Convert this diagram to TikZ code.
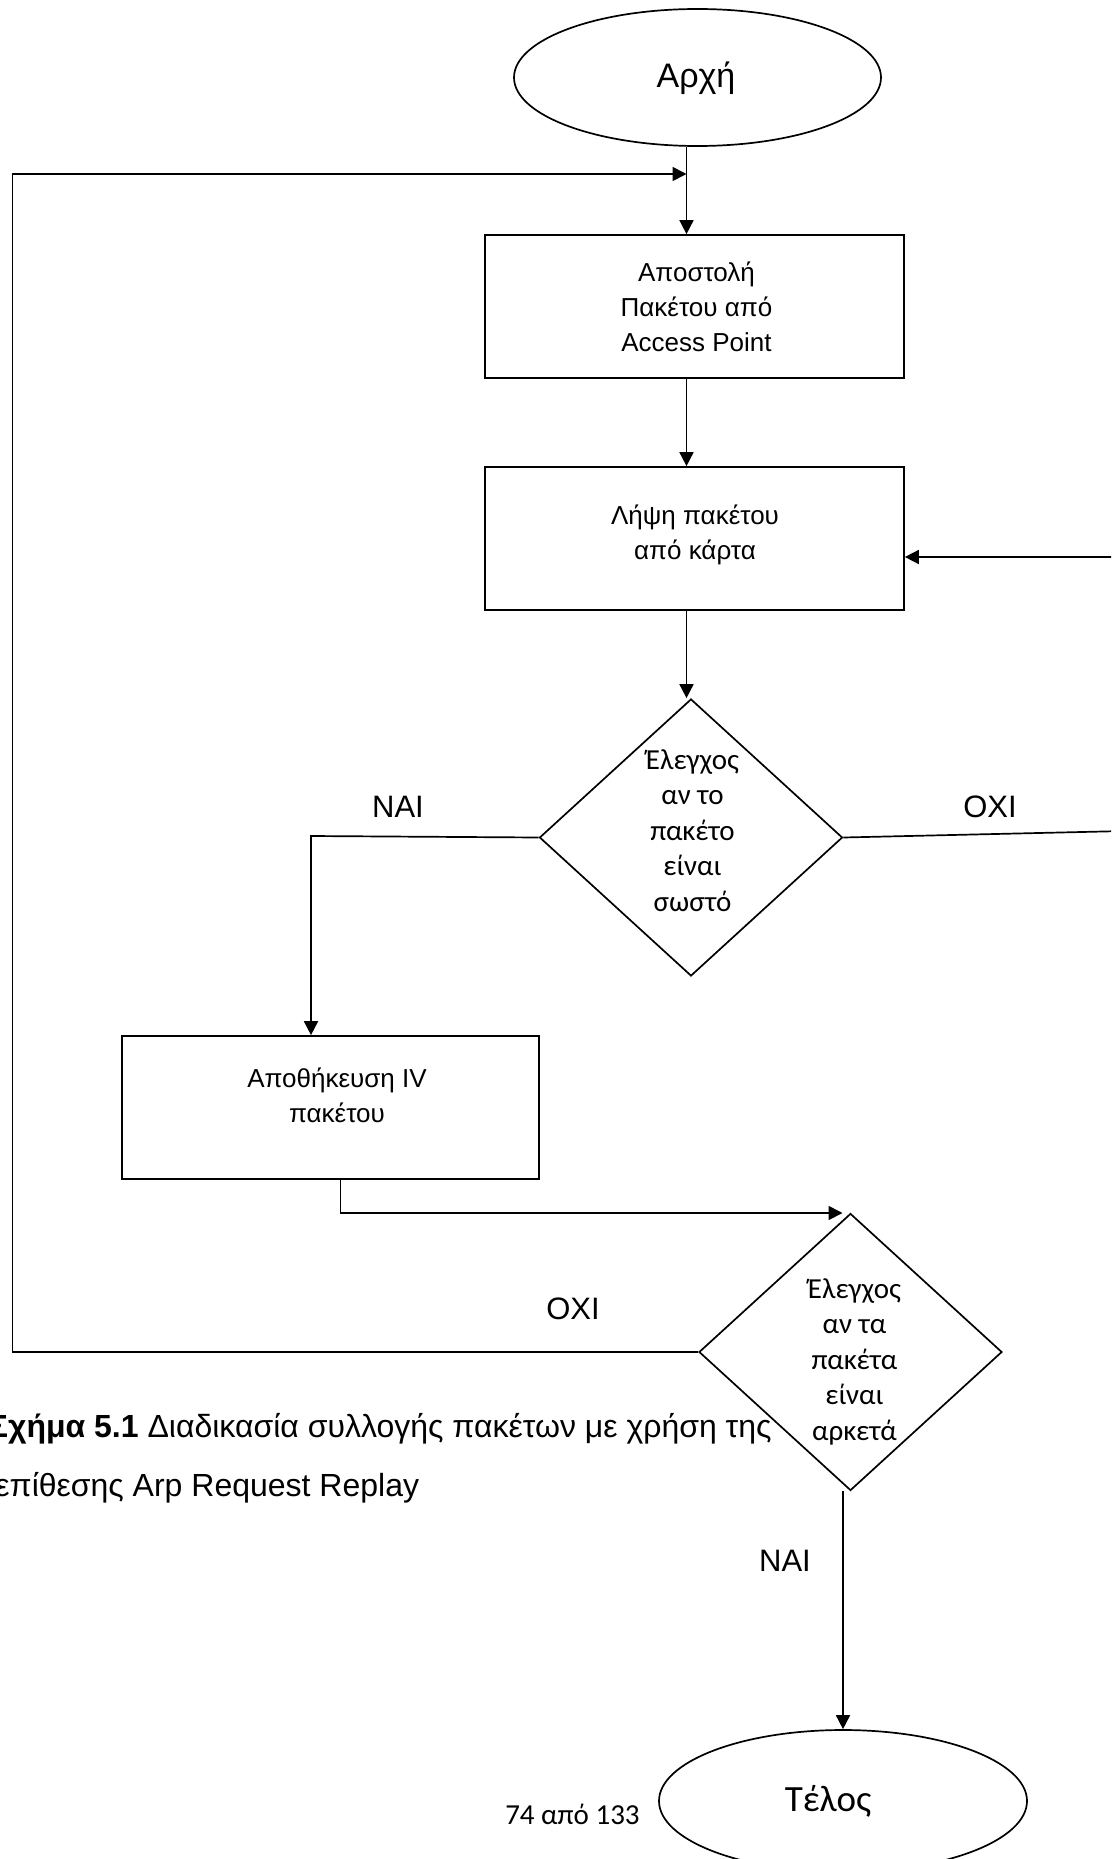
\documentclass[tikz,border=0pt]{standalone}
\usepackage{fontspec}
\setmainfont{Liberation Sans}
\newfontfamily\calib{Carlito}
\usetikzlibrary{shapes.geometric,arrows.meta}
\begin{document}
\begin{tikzpicture}[x=1pt,y=-1pt,
  line width=1.7pt,
  arr/.style={-{Triangle[length=14pt,width=14pt]}},
  stepbox/.style={draw,rectangle,inner sep=0pt,minimum width=419pt,minimum height=143pt},
  decis/.style={draw,diamond,inner sep=0pt,minimum width=303pt,minimum height=277pt},
  term/.style={draw,ellipse,inner sep=0pt},
  boxtxt/.style={inner sep=0pt,align=center,font=\fontsize{26}{35}\selectfont},
  dtxt/.style={inner sep=0pt,align=center,font=\calib\fontsize{29}{35.5}\selectfont},
  lbl/.style={inner sep=0pt,font=\fontsize{31}{36}\selectfont},
  captxt/.style={inner sep=0pt,font=\fontsize{32}{38}\selectfont}]
\useasboundingbox (0,0) rectangle (1111,1859);
\clip (0,0) rectangle (1111,1859);
\fill[white] (0,0) rectangle (1111,1859);

% shapes
\node[term,minimum width=367pt,minimum height=137pt] (start) at (697.5,77.5) {};
\node[stepbox] (b1) at (694.5,306.5) {};
\node[stepbox] (b2) at (694.5,538.5) {};
\node[decis] (d1) at (691,837.5) {};
\node[stepbox,minimum width=417pt] (b3) at (330.5,1107.5) {};
\node[decis] (d2) at (850.5,1352) {};
\node[term,minimum width=368pt,minimum height=142pt] (end) at (843,1801) {};

% texts
\node[inner sep=0pt,font=\fontsize{34}{40}\selectfont,anchor=base] (startt) at (696,88) {Αρχή};
\node[boxtxt] (b1t) at (696.5,307) {Αποστολή\\Πακέτου από\\Access Point};
\node[boxtxt] (b2t) at (695,535) {Λήψη πακέτου\\από κάρτα};
\node[boxtxt] (b3t) at (337,1095) {Αποθήκευση IV\\πακέτου};
\node[dtxt] (d1t) at (692.5,830.5) {Έλεγχος\\αν το\\πακέτο\\είναι\\σωστό};
\node[dtxt] (d2t) at (854.5,1361.5) {Έλεγχος\\αν τα\\πακέτα\\είναι\\αρκετά};
\node[inner sep=0pt,font=\calib\fontsize{37}{42}\selectfont,anchor=base] (endt) at (828,1811.5) {Τέλος};
\node[inner sep=0pt,font=\calib\fontsize{29}{34}\selectfont,anchor=base east] (page) at (640.5,1824) {74 από 133};
\node[lbl,anchor=base] (nai1) at (398,817) {NAI};
\node[lbl,anchor=base] (oxi1) at (990,817) {OXI};
\node[lbl,anchor=base] (oxi2) at (573,1319) {OXI};
\node[lbl,anchor=base] (nai2) at (785,1571) {NAI};
\node[captxt,anchor=base east] (cap1) at (772.5,1437) {\textbf{Σχήμα 5.1} Διαδικασία συλλογής πακέτων με χρήση της};
\node[captxt,anchor=base east] (cap2) at (420,1496) {επίθεσης Arp Request Replay};

% helper coordinates
\coordinate (mx) at (686.5,174);
\coordinate (lx) at (12.5,174);
\coordinate (r1) at (1125,831);
\coordinate (r2) at (1125,557);
\coordinate (nx) at (311,836);
\coordinate (bx) at (340.5,1213);
\coordinate (d2in) at (842.5,1213);

% connectors
\draw[arr] (start.south -| mx) -- (b1.north -| mx);
\draw[arr] (b1.south -| mx) -- (b2.north -| mx);
\draw[arr] (b2.south -| mx) -- (d1.north -| mx);
\draw[arr] (d1.east) -- (r1) -- (r2) -- (b2.east |- r2);
\draw[arr] (d1.west) -- (nx) -- (b3.north -| nx);
\draw[arr] (b3.south -| bx) -- (bx) -- (d2in);
\draw[arr] (d2.west) -- (d2.west -| lx) -- (lx) -- (mx);
\draw[arr] (end.north |- d2.south) -- (end.north);
\end{tikzpicture}
\end{document}
